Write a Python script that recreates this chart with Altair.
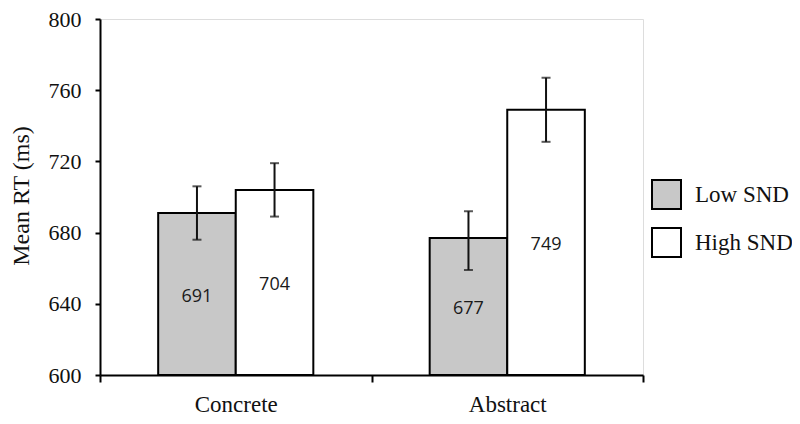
import altair as alt
import pandas as pd

categories = ["Concrete", "Abstract"]
groups = ["Low SND", "High SND"]
cat_col = ["Concrete", "Concrete", "Abstract", "Abstract"]
grp_col = ["Low SND", "High SND", "Low SND", "High SND"]
means = [691, 704, 677, 749]
err_lo = [676, 689, 659, 731]
err_hi = [706, 719, 692, 767]
y_ticks = [600, 640, 680, 720, 760, 800]

df = pd.DataFrame({"category": cat_col, "group": grp_col, "mean": means,
                   "lo": err_lo, "hi": err_hi})

SERIF = "Liberation Serif, Times New Roman, Times, serif"

x = alt.X("category:N", sort=categories,
          scale=alt.Scale(paddingInner=0, paddingOuter=0),
          axis=alt.Axis(title=None, labelAngle=0, tickBand="extent", tickSize=7,
                        tickWidth=2, tickColor="black", domainColor="black",
                        domainWidth=2, labelFont=SERIF, labelFontSize=23,
                        labelColor="#111", labelBaseline="alphabetic",
                        labelPadding=29))
xo = alt.XOffset("group:N", sort=groups,
                 scale=alt.Scale(domain=groups, paddingOuter=0.75, paddingInner=0))
yscale = alt.Scale(domain=[600, 800], nice=False, zero=False)

base = alt.Chart(df)

bars = base.mark_bar(stroke="black", strokeWidth=2, opacity=1).encode(
    x=x, xOffset=xo,
    y=alt.Y("mean:Q", scale=yscale,
            axis=alt.Axis(values=y_ticks, title="Mean RT (ms)", grid=False,
                          tickSize=5, tickWidth=2, tickColor="black",
                          domainColor="black", domainWidth=2,
                          labelFont=SERIF, labelFontSize=22, labelColor="#111",
                          labelPadding=14, titleFont=SERIF, titleFontSize=24,
                          titleFontWeight="normal", titleColor="#111",
                          titleAngle=270, titleX=-72, titleY=176.5,
                          titleAlign="center", titleBaseline="alphabetic")),
    y2=alt.datum(600),
    color=alt.Color("group:N", sort=groups,
                    scale=alt.Scale(domain=groups, range=["#c8c8c8", "#ffffff"]),
                    legend=alt.Legend(title=None, orient="none", legendX=551,
                                      legendY=160, symbolType="square",
                                      symbolSize=841, symbolStrokeColor="black",
                                      symbolStrokeWidth=2, symbolOpacity=1,
                                      labelFont=SERIF, labelFontSize=23,
                                      labelColor="#111", labelOffset=13,
                                      rowPadding=11, padding=0)),
)

rules = base.mark_rule(color="#111", strokeWidth=2).encode(
    x=x, xOffset=xo, y=alt.Y("lo:Q", scale=yscale), y2="hi:Q")

tick_lo = base.mark_tick(orient="horizontal", size=9, thickness=2, color="#111").encode(
    x=x, xOffset=xo, y=alt.Y("lo:Q", scale=yscale))
tick_hi = base.mark_tick(orient="horizontal", size=9, thickness=2, color="#111").encode(
    x=x, xOffset=xo, y=alt.Y("hi:Q", scale=yscale))

labels = base.transform_calculate(mid="(600 + datum.mean) / 2").mark_text(
    font="Open Sans", fontSize=18, color="#1a1a1a", baseline="middle", dy=3).encode(
    x=x, xOffset=xo, y=alt.Y("mid:Q", scale=yscale), text="mean:Q")

chart = alt.layer(bars, rules, tick_lo, tick_hi, labels).properties(
    width=543, height=356,
    autosize=alt.AutoSizeParams(type="none"),
    padding={"left": 92, "top": 11, "right": 149, "bottom": 41},
).configure_view(stroke=None).configure(background="white")

chart.save("out.html", embed_options={"renderer": "svg", "actions": False})
